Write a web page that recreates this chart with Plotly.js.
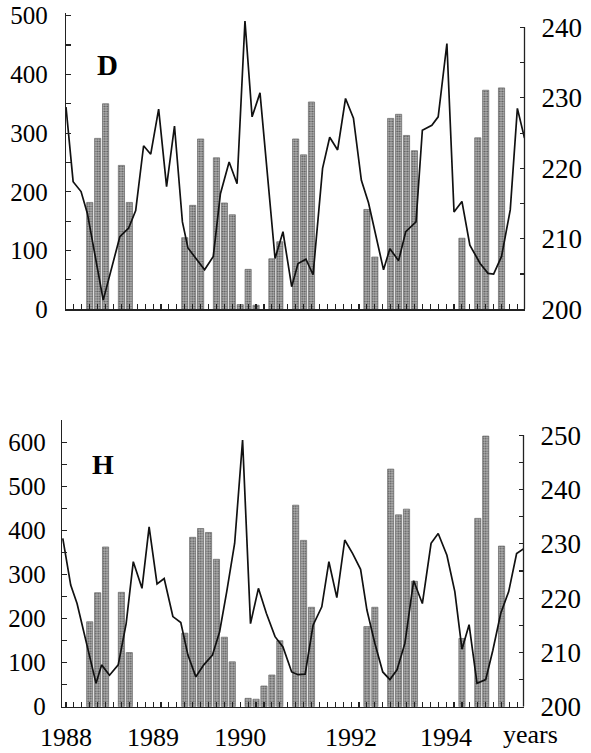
<!DOCTYPE html>
<html>
<head>
<meta charset="utf-8">
<script src="https://cdn.plot.ly/plotly-3.0.1.min.js"></script>
<style>
html,body{margin:0;padding:0;background:#fff;}
#chart{width:591px;height:753px;}
</style>
</head>
<body>
<div id="chart"></div>
<script>
// ---- Panel D ----
var dBarX = [3,4,5,7,8,15,16,17,19,20,21,22,23,24,26,27,29,30,31,38,39,41,42,43,44,50,52,53,55];
var dBarV = [182,291,350,245,182,122,177,290,258,181,161,8,68,7,86,115,290,263,353,170,89,325,332,296,270,121,292,373,377];
var dLineX = [0,0.9,1.9,2.7,4.7,6.8,7.9,8.8,9.8,10.7,11.7,12.7,13.7,14.7,15.4,17.5,18.6,19.5,20.6,21.6,22.6,23.5,24.5,26.4,27.4,28.5,29.3,30.3,31.2,32.4,33.3,34.3,35.3,36.3,37.3,38.2,40.1,40.9,42.0,42.9,44.2,45.0,46.2,47.0,48.1,49.0,50.0,51.0,52.3,53.3,54.0,55.0,56.1,57.0,57.9];
var dLineV = [228.7,218.1,216.7,213.6,201.3,210.3,211.5,214.0,223.2,222.0,228.4,217.4,226.0,212.4,208.7,205.6,207.5,216.4,220.9,217.8,240.9,227.3,230.7,207.2,211.0,203.2,206.5,207.1,204.9,220.0,224.4,222.6,229.9,227.1,218.3,215.1,205.6,208.6,206.9,211.0,212.4,225.4,226.1,227.3,237.7,213.8,215.3,209.1,206.5,205.1,205.0,207.5,214.1,228.5,224.3];

// ---- Panel H ----
var hBarX = [3,4,5,7,8,15,16,17,18,19,20,21,23,24,25,26,27,29,30,31,38,39,41,42,43,44,50,52,53,55];
var hBarV = [193,259,363,260,123,167,385,405,396,335,158,102,19,17,47,72,150,458,378,226,182,226,540,436,449,285,155,428,615,365];
var hLineX = [-0.4,0.6,1.4,2.4,3.8,4.5,5.5,6.6,7.6,8.5,9.6,10.5,11.5,12.4,13.5,14.5,15.4,16.4,17.4,18.5,19.4,20.3,21.3,22.3,23.3,24.3,25.3,26.4,27.4,28.5,29.3,30.2,31.2,32.3,33.2,34.2,35.2,36.2,37.2,38.0,39.0,40.0,40.9,41.8,42.8,43.9,45.0,46.1,47.0,48.1,49.1,50.0,50.9,51.9,53.0,53.9,54.9,55.9,56.9,57.8];
var hLineV = [231.0,222.4,219.0,212.9,204.3,207.7,205.8,207.7,215.3,226.7,221.8,233.1,222.6,223.6,216.6,215.5,209.5,205.5,207.7,209.5,213.8,221.2,230.1,249.1,215.3,221.8,217.2,212.9,211.0,206.4,205.9,206.0,215.0,218.4,226.7,220.1,230.7,228.2,225.3,217.8,211.7,206.4,205.0,206.8,211.7,223.2,219.0,230.1,231.9,227.9,221.2,210.6,215.1,204.3,205.0,210.4,217.2,221.2,228.2,229.1];

// ---- Tick labels ----
var xLabelPos = [0, 11, 22, 36, 48];
var xLabelText = ['1988','1989','1990','1992','1994'];
var xUnitLabel = 'years';
var panelNames = ['D','H'];

var W = 591, H = 753;
function px(x){return x/W;}
function py(y){return 1 - y/H;}

function stepTicks(lo, hi, step, labelEvery, maxLabel){
  var v=[], t=[];
  for (var a=lo; a<=hi+1e-9; a+=step){ v.push(a); t.push(((a-lo)%labelEvery===0 && a<=maxLabel)? String(a):''); }
  return {v:v,t:t};
}
var xt = {v:[], t:[]};
for (var i=0;i<=57;i++){ xt.v.push(i); var k=xLabelPos.indexOf(i); xt.t.push(k>=0?xLabelText[k]:''); }

var serif = 'Liberation Serif, Times New Roman, serif';
var barMarker = {
  color:'#9c9c9c',
  line:{color:'#666', width:0.7},
  pattern:{shape:'.', fgcolor:'#555', bgcolor:'#b0b0b0', size:2.5, solidity:0.4}
};
var lineStyle = {color:'#111', width:1.7};

var traces = [
  {type:'bar', x:dBarX, y:dBarV, xaxis:'x', yaxis:'y', width:0.78, marker:barMarker, showlegend:false},
  {type:'scatter', mode:'lines', x:dLineX, y:dLineV, xaxis:'x', yaxis:'y2', line:lineStyle, showlegend:false},
  {type:'bar', x:hBarX, y:hBarV, xaxis:'x2', yaxis:'y3', width:0.78, marker:barMarker, showlegend:false},
  {type:'scatter', mode:'lines', x:hLineX, y:hLineV, xaxis:'x2', yaxis:'y4', line:lineStyle, showlegend:false}
];

var yl1 = stepTicks(0,500,50,100,500), yr1 = stepTicks(200,240,5,10,240);
var yl2 = stepTicks(0,650,50,100,600), yr2 = stepTicks(200,250,5,10,250);
var tf = {family:serif, size:25, color:'#000'};
var tfr = {family:serif, size:27, color:'#000'};

var common = {showgrid:false, zeroline:false, ticks:'inside', ticklen:5, tickwidth:1.1, tickcolor:'#222', linecolor:'#222', linewidth:1.3, tickfont:tf, fixedrange:true};

var layout = {
  width:W, height:H, margin:{l:0,r:0,t:0,b:0},
  paper_bgcolor:'#fff', plot_bgcolor:'#fff',
  barmode:'overlay', showlegend:false,
  xaxis: Object.assign({}, common, {domain:[px(66),px(524.5)], range:[0,57.9], anchor:'y', showline:true, tickmode:'array', tickvals:xt.v, ticktext:xt.t.map(function(){return '';}), showticklabels:false}),
  yaxis: Object.assign({}, common, {domain:[py(309.3),py(12.7)], range:[0,505], anchor:'x', showline:true, tickmode:'array', tickvals:yl1.v, ticktext:yl1.t, ticklabelstandoff:12}),
  yaxis2: Object.assign({}, common, {domain:[py(309.3),py(12.7)], range:[200,242.07], anchor:'x', overlaying:'y', side:'right', showline:false, tickmode:'array', tickvals:yr1.v, ticktext:yr1.t, tickfont:tfr, ticklabelstandoff:16}),
  xaxis2: Object.assign({}, common, {domain:[px(62),px(523.5)], range:[-0.5,57.77], anchor:'y3', showline:true, tickmode:'array', tickvals:xt.v, ticktext:xt.t, tickfont:{family:serif,size:26,color:'#000'}, ticklabelstandoff:7}),
  yaxis3: Object.assign({}, common, {domain:[py(706.7),py(420)], range:[0,651.6], anchor:'x2', showline:true, tickmode:'array', tickvals:yl2.v, ticktext:yl2.t, ticklabelstandoff:10}),
  yaxis4: Object.assign({}, common, {domain:[py(706.7),py(420)], range:[200,252.8], anchor:'x2', overlaying:'y3', side:'right', showline:false, tickmode:'array', tickvals:yr2.v, ticktext:yr2.t, tickfont:tfr, ticklabelstandoff:16}),
  shapes:[
    {type:'line', xref:'x domain', yref:'y2', x0:1, x1:1, y0:200, y1:240, line:{color:'#222', width:1.3}},
    {type:'line', xref:'x2 domain', yref:'y4', x0:1, x1:1, y0:200, y1:250, line:{color:'#222', width:1.3}}
  ],
  annotations:[
    {text:'<b>'+panelNames[0]+'</b>', xref:'paper', yref:'paper', x:px(107.5), y:py(65), xanchor:'center', yanchor:'middle', showarrow:false, font:{family:serif, size:29, color:'#000'}},
    {text:'<b>'+panelNames[1]+'</b>', xref:'paper', yref:'paper', x:px(103), y:py(464), xanchor:'center', yanchor:'middle', showarrow:false, font:{family:serif, size:28, color:'#000'}},
    {text:xUnitLabel, xref:'paper', yref:'paper', x:px(530), y:py(734), xanchor:'center', yanchor:'middle', showarrow:false, font:{family:serif, size:26, color:'#000'}}
  ]
};

Plotly.newPlot('chart', traces, layout, {staticPlot:true, displayModeBar:false});
</script>
</body>
</html>
